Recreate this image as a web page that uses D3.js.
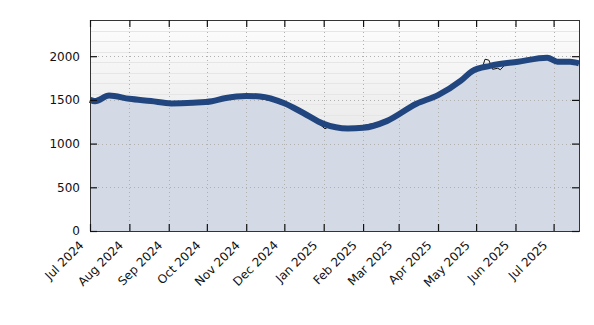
<!DOCTYPE html>
<html>
<head>
<meta charset="utf-8">
<script src="https://cdn.jsdelivr.net/npm/d3@7"></script>
<style>
  body { margin: 0; background: #fff; }
  svg text { font-family: "DejaVu Sans", sans-serif; }
</style>
</head>
<body>
<div id="chart"></div>
<script>
// smoothed series (thick blue line + area)
const smoothDates = [
  "2024-07-01", "2024-07-05", "2024-07-16", "2024-08-01", "2024-08-18",
  "2024-09-03", "2024-09-20", "2024-10-05", "2024-10-15", "2024-11-01",
  "2024-11-12", "2024-12-01", "2024-12-16", "2025-01-01", "2025-01-20",
  "2025-02-01", "2025-02-20", "2025-03-15", "2025-04-01", "2025-04-19",
  "2025-04-28", "2025-05-12", "2025-06-03", "2025-06-26", "2025-07-04",
  "2025-07-14", "2025-07-21"
];
const smoothValues = [
  1500, 1485, 1550, 1512, 1487,
  1460, 1468, 1485, 1518, 1545,
  1540, 1462, 1350, 1225, 1172,
  1180, 1260, 1455, 1555, 1720,
  1830, 1890, 1937, 1983, 1937,
  1937, 1918
];

// raw series (thin black line, mostly hidden under the smooth one)
const rawDates = [
  "2024-07-01", "2024-07-16", "2024-08-01", "2024-09-03", "2024-09-28",
  "2024-10-02", "2024-10-06", "2024-11-01", "2024-12-01", "2024-12-28",
  "2025-01-02", "2025-01-06", "2025-01-20", "2025-02-20", "2025-04-01",
  "2025-04-28", "2025-05-06", "2025-05-08", "2025-05-11", "2025-05-14",
  "2025-05-18", "2025-05-20", "2025-05-24", "2025-06-03", "2025-06-26",
  "2025-07-04", "2025-07-21"
];
const rawValues = [
  1500, 1550, 1512, 1460, 1472,
  1450, 1488, 1545, 1462, 1232,
  1170, 1200, 1172, 1260, 1555,
  1830, 1875, 1965, 1955, 1850,
  1862, 1845, 1905, 1937, 1983,
  1937, 1918
];

const xTickLabels = [
  "Jul 2024", "Aug 2024", "Sep 2024", "Oct 2024", "Nov 2024", "Dec 2024",
  "Jan 2025", "Feb 2025", "Mar 2025", "Apr 2025", "May 2025", "Jun 2025", "Jul 2025"
];
const yTicks = [0, 500, 1000, 1500, 2000];

const width = 594;
const height = 325;
const margin = { top: 20, right: 15, bottom: 94, left: 90 };
const innerWidth = width - margin.left - margin.right;
const innerHeight = height - margin.top - margin.bottom;

const parseDate = d3.timeParse("%Y-%m-%d");
const smooth = smoothDates.map((d, i) => ({ date: parseDate(d), value: smoothValues[i] }));
const raw = rawDates.map((d, i) => ({ date: parseDate(d), value: rawValues[i] }));
const tickDates = xTickLabels.map((d) => d3.timeParse("%b %Y")(d));

const x = d3
  .scaleTime()
  .domain([parseDate("2024-07-01"), parseDate("2025-07-21")])
  .range([0, innerWidth]);

const y = d3.scaleLinear().domain([0, 2414]).range([innerHeight, 0]);

const svg = d3
  .select("#chart")
  .append("svg")
  .attr("width", width)
  .attr("height", height)
  .append("g")
  .attr("transform", `translate(${margin.left},${margin.top})`);

// background gradient
const defs = svg.append("defs");
const grad = defs
  .append("linearGradient")
  .attr("id", "bg")
  .attr("x1", 0).attr("y1", 0).attr("x2", 0).attr("y2", 1);
grad.append("stop").attr("offset", "0%").attr("stop-color", "#fdfdfd");
grad.append("stop").attr("offset", "100%").attr("stop-color", "#dadada");

svg
  .append("rect")
  .attr("width", innerWidth)
  .attr("height", innerHeight)
  .attr("fill", "url(#bg)");

// faint bands in background
svg
  .append("g")
  .selectAll("line")
  .data(d3.range(1, 20))
  .enter()
  .append("line")
  .attr("x1", 0)
  .attr("x2", innerWidth)
  .attr("y1", (d) => Math.round((innerHeight * d) / 20) + 0.5)
  .attr("y2", (d) => Math.round((innerHeight * d) / 20) + 0.5)
  .attr("stroke", "#e6e6e6")
  .attr("stroke-width", 1);

// area
svg
  .append("path")
  .datum(smooth)
  .attr("fill", "#d3d9e5")
  .attr(
    "d",
    d3
      .area()
      .curve(d3.curveMonotoneX)
      .x((d) => x(d.date))
      .y0(innerHeight)
      .y1((d) => y(d.value))
  );

// gridlines
svg
  .append("g")
  .selectAll("line")
  .data(yTicks.slice(1))
  .enter()
  .append("line")
  .attr("x1", 0)
  .attr("x2", innerWidth)
  .attr("y1", (d) => Math.round(y(d)) + 0.5)
  .attr("y2", (d) => Math.round(y(d)) + 0.5)
  .attr("stroke", "#b0b0b0")
  .attr("stroke-dasharray", "1 3");

svg
  .append("g")
  .selectAll("line")
  .data(tickDates.slice(1))
  .enter()
  .append("line")
  .attr("x1", (d) => Math.round(x(d)) + 0.5)
  .attr("x2", (d) => Math.round(x(d)) + 0.5)
  .attr("y1", 0)
  .attr("y2", innerHeight)
  .attr("stroke", "#b0b0b0")
  .attr("stroke-dasharray", "1 3");

// raw line
svg
  .append("path")
  .datum(raw)
  .attr("fill", "none")
  .attr("stroke", "#111")
  .attr("stroke-width", 1)
  .attr(
    "d",
    d3
      .line()
      .x((d) => x(d.date))
      .y((d) => y(d.value))
  );

// smoothed line
svg
  .append("path")
  .datum(smooth)
  .attr("fill", "none")
  .attr("stroke", "#21467f")
  .attr("stroke-width", 6)
  .attr("stroke-linejoin", "round")
  .attr(
    "d",
    d3
      .line()
      .curve(d3.curveMonotoneX)
      .x((d) => x(d.date))
      .y((d) => y(d.value))
  );

// frame
svg
  .append("rect")
  .attr("x", 0.5)
  .attr("y", 0.5)
  .attr("width", innerWidth)
  .attr("height", innerHeight)
  .attr("fill", "none")
  .attr("stroke", "#333")
  .attr("stroke-width", 1);

// axes, ticks pointing inward on all sides
const tickLen = 7;
svg
  .append("g")
  .call(
    d3
      .axisLeft(y)
      .tickValues(yTicks)
      .tickSize(-tickLen)
      .tickPadding(10)
      .tickFormat(d3.format("d"))
  )
  .call((g) => g.select(".domain").remove());
svg
  .append("g")
  .attr("transform", `translate(${innerWidth},0)`)
  .call(d3.axisRight(y).tickValues(yTicks).tickSize(-tickLen).tickFormat(""))
  .call((g) => g.select(".domain").remove());
svg
  .append("g")
  .call(d3.axisTop(x).tickValues(tickDates).tickSize(-tickLen).tickFormat(""))
  .call((g) => g.select(".domain").remove());

const xAxis = svg
  .append("g")
  .attr("transform", `translate(0,${innerHeight})`)
  .call(
    d3
      .axisBottom(x)
      .tickValues(tickDates)
      .tickSize(-tickLen)
      .tickFormat((d, i) => xTickLabels[i])
  )
  .call((g) => g.select(".domain").remove());

xAxis
  .selectAll("text")
  .attr("text-anchor", "end")
  .attr("dy", "0.35em")
  .attr("transform", "translate(-9,12) rotate(-45)")
  .attr("y", 0)
  .attr("x", 0);

svg.selectAll(".tick line").attr("stroke", "#111").attr("stroke-width", 1.2);
svg.selectAll(".tick text").attr("font-size", 12).attr("fill", "#111");
</script>
</body>
</html>
